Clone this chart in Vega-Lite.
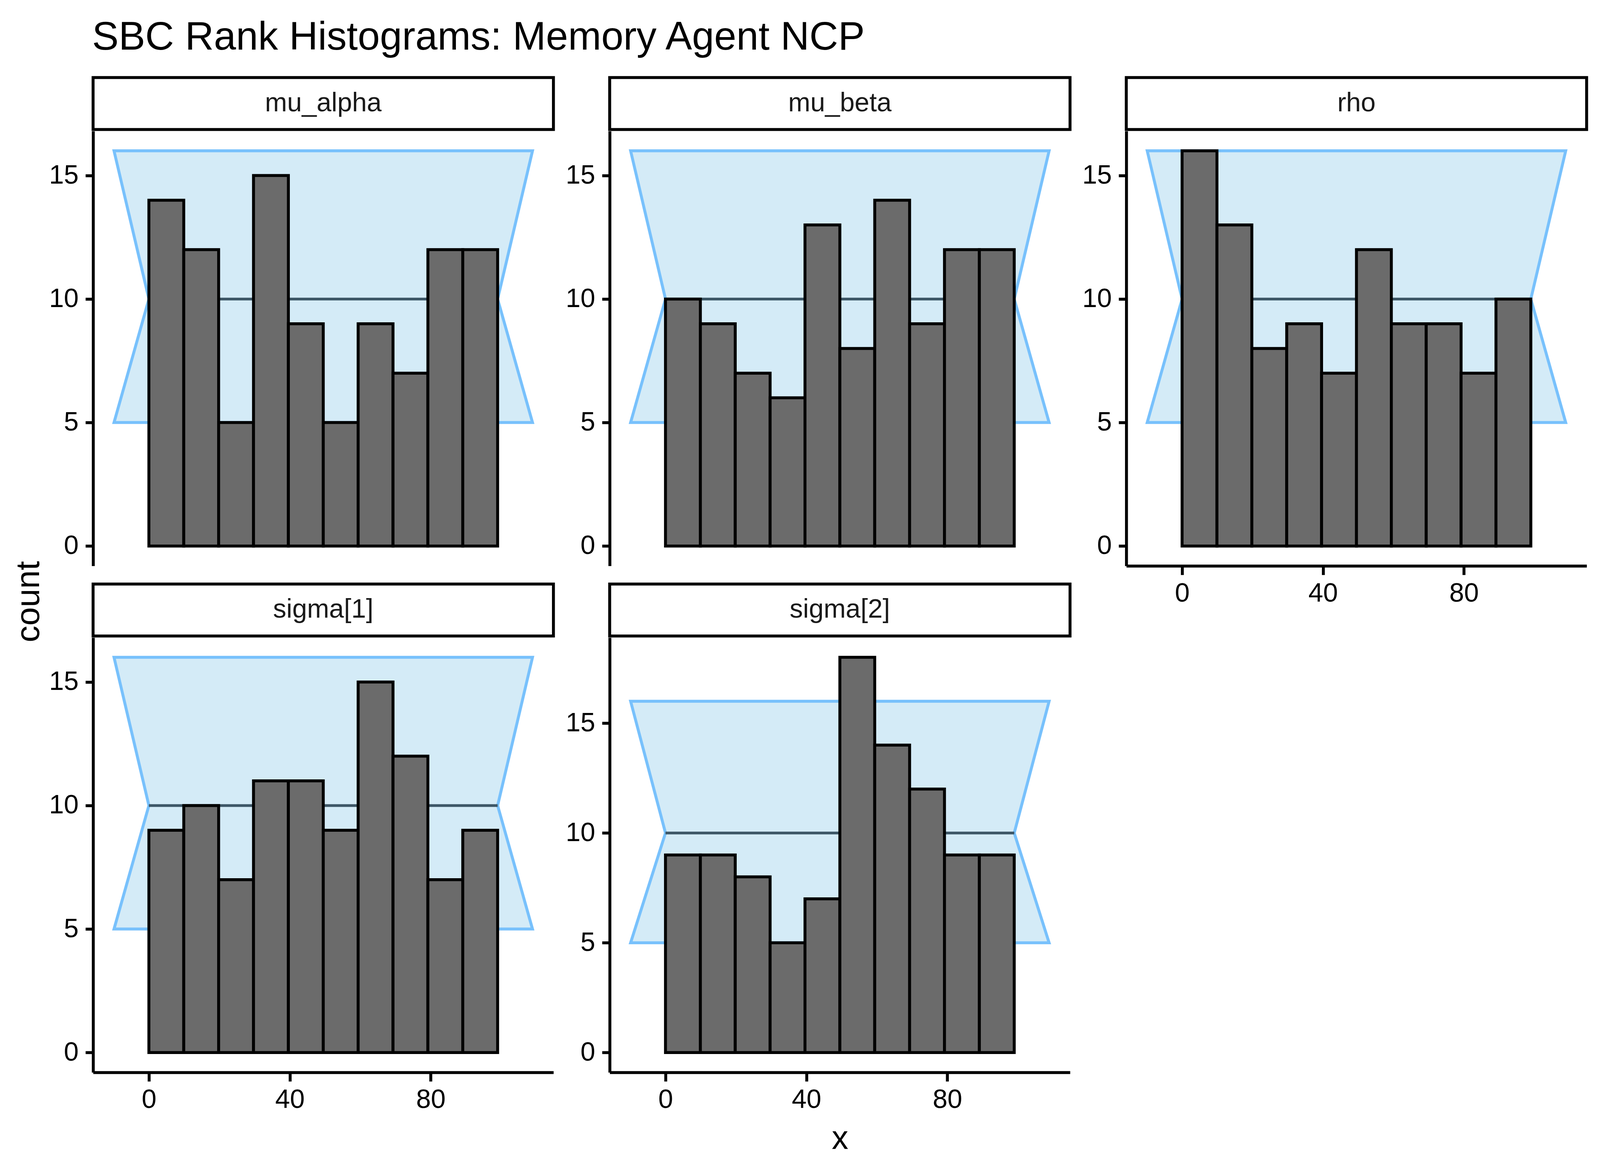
{
  "$schema": "https://vega.github.io/schema/vega-lite/v6.json",
  "background": "white",
  "padding": {"left": 31.7, "top": 44.4, "right": 20, "bottom": 20},
  "title": {"text": "SBC Rank Histograms: Memory Agent NCP", "anchor": "start", "frame": "bounds", "dx": 204, "offset": 46.6, "fontSize": 102, "fontWeight": "normal", "font": "Liberation Sans", "color": "black"},
  "datasets": {
    "band": [
      {"cy": 5, "lo": -9.9, "hi": 108.9},
      {"cy": 10, "lo": 0, "hi": 99},
      {"cy": 16, "lo": -9.9, "hi": 108.9}
    ],
    "mean": [{"cy": 10, "lo": 0, "hi": 99}],
    "bars": [
      {"panel": "mu_alpha", "lo": 0, "hi": 9.9, "count": 14},
      {"panel": "mu_alpha", "lo": 9.9, "hi": 19.8, "count": 12},
      {"panel": "mu_alpha", "lo": 19.8, "hi": 29.7, "count": 5},
      {"panel": "mu_alpha", "lo": 29.7, "hi": 39.6, "count": 15},
      {"panel": "mu_alpha", "lo": 39.6, "hi": 49.5, "count": 9},
      {"panel": "mu_alpha", "lo": 49.5, "hi": 59.4, "count": 5},
      {"panel": "mu_alpha", "lo": 59.4, "hi": 69.3, "count": 9},
      {"panel": "mu_alpha", "lo": 69.3, "hi": 79.2, "count": 7},
      {"panel": "mu_alpha", "lo": 79.2, "hi": 89.1, "count": 12},
      {"panel": "mu_alpha", "lo": 89.1, "hi": 99, "count": 12},
      {"panel": "mu_beta", "lo": 0, "hi": 9.9, "count": 10},
      {"panel": "mu_beta", "lo": 9.9, "hi": 19.8, "count": 9},
      {"panel": "mu_beta", "lo": 19.8, "hi": 29.7, "count": 7},
      {"panel": "mu_beta", "lo": 29.7, "hi": 39.6, "count": 6},
      {"panel": "mu_beta", "lo": 39.6, "hi": 49.5, "count": 13},
      {"panel": "mu_beta", "lo": 49.5, "hi": 59.4, "count": 8},
      {"panel": "mu_beta", "lo": 59.4, "hi": 69.3, "count": 14},
      {"panel": "mu_beta", "lo": 69.3, "hi": 79.2, "count": 9},
      {"panel": "mu_beta", "lo": 79.2, "hi": 89.1, "count": 12},
      {"panel": "mu_beta", "lo": 89.1, "hi": 99, "count": 12},
      {"panel": "rho", "lo": 0, "hi": 9.9, "count": 16},
      {"panel": "rho", "lo": 9.9, "hi": 19.8, "count": 13},
      {"panel": "rho", "lo": 19.8, "hi": 29.7, "count": 8},
      {"panel": "rho", "lo": 29.7, "hi": 39.6, "count": 9},
      {"panel": "rho", "lo": 39.6, "hi": 49.5, "count": 7},
      {"panel": "rho", "lo": 49.5, "hi": 59.4, "count": 12},
      {"panel": "rho", "lo": 59.4, "hi": 69.3, "count": 9},
      {"panel": "rho", "lo": 69.3, "hi": 79.2, "count": 9},
      {"panel": "rho", "lo": 79.2, "hi": 89.1, "count": 7},
      {"panel": "rho", "lo": 89.1, "hi": 99, "count": 10},
      {"panel": "sigma[1]", "lo": 0, "hi": 9.9, "count": 9},
      {"panel": "sigma[1]", "lo": 9.9, "hi": 19.8, "count": 10},
      {"panel": "sigma[1]", "lo": 19.8, "hi": 29.7, "count": 7},
      {"panel": "sigma[1]", "lo": 29.7, "hi": 39.6, "count": 11},
      {"panel": "sigma[1]", "lo": 39.6, "hi": 49.5, "count": 11},
      {"panel": "sigma[1]", "lo": 49.5, "hi": 59.4, "count": 9},
      {"panel": "sigma[1]", "lo": 59.4, "hi": 69.3, "count": 15},
      {"panel": "sigma[1]", "lo": 69.3, "hi": 79.2, "count": 12},
      {"panel": "sigma[1]", "lo": 79.2, "hi": 89.1, "count": 7},
      {"panel": "sigma[1]", "lo": 89.1, "hi": 99, "count": 9},
      {"panel": "sigma[2]", "lo": 0, "hi": 9.9, "count": 9},
      {"panel": "sigma[2]", "lo": 9.9, "hi": 19.8, "count": 9},
      {"panel": "sigma[2]", "lo": 19.8, "hi": 29.7, "count": 8},
      {"panel": "sigma[2]", "lo": 29.7, "hi": 39.6, "count": 5},
      {"panel": "sigma[2]", "lo": 39.6, "hi": 49.5, "count": 7},
      {"panel": "sigma[2]", "lo": 49.5, "hi": 59.4, "count": 18},
      {"panel": "sigma[2]", "lo": 59.4, "hi": 69.3, "count": 14},
      {"panel": "sigma[2]", "lo": 69.3, "hi": 79.2, "count": 12},
      {"panel": "sigma[2]", "lo": 79.2, "hi": 89.1, "count": 9},
      {"panel": "sigma[2]", "lo": 89.1, "hi": 99, "count": 9}
    ]
  },
  "spacing": 6.6,
  "hconcat": [
    {
      "width": 85, "height": 2683.5,
      "data": {"values": [{"label": "count"}]},
      "mark": {"type": "text", "fontSize": 85, "angle": 270, "color": "black", "baseline": "middle", "align": "center", "font": "Liberation Sans"},
      "encoding": {"text": {"field": "label", "type": "nominal"}}
    },
    {
      "spacing": 25.5,
      "hconcat": [
        {
          "spacing": 42.5,
          "vconcat": [
            {
              "spacing": -7.5,
              "vconcat": [
                {"width": 1178.5, "height": 133, "view": {"stroke": "black", "strokeWidth": 7.5, "fill": "white"},
                 "data": {"values": [{"label": "mu_alpha"}]},
                 "mark": {"type": "text", "fontSize": 68, "color": "#1a1a1a", "baseline": "middle", "align": "center", "font": "Liberation Sans"},
                 "encoding": {"text": {"field": "label", "type": "nominal"}}},
                {"width": 1178.5, "height": 1113,
                 "layer": [
                   {"data": {"name": "band"},
                    "mark": {"type": "area", "orient": "horizontal", "fill": "#d4ebf7", "stroke": "#78c1fc", "strokeWidth": 7.5, "strokeJoin": "miter"},
                    "encoding": {
                      "y": {"field": "cy", "type": "quantitative", "title": null, "scale": {"domain": [-0.8, 16.8], "nice": false, "zero": false}, "axis": {"values": [0, 5, 10, 15], "title": null}},
                      "x": {"field": "lo", "type": "quantitative", "title": null, "scale": {"domain": [-15.84, 114.84], "nice": false, "zero": false}, "axis": null},
                      "x2": {"field": "hi"}}},
                   {"data": {"name": "mean"},
                    "mark": {"type": "rule", "color": "#3d5767", "strokeWidth": 7},
                    "encoding": {
                      "y": {"field": "cy", "type": "quantitative", "title": null, "axis": {"values": [0, 5, 10, 15], "title": null}},
                      "x": {"field": "lo", "type": "quantitative", "title": null, "axis": null},
                      "x2": {"field": "hi"}}},
                   {"data": {"name": "bars"}, "transform": [{"filter": "datum.panel == 'mu_alpha'"}],
                    "mark": {"type": "rect", "fill": "#6b6b6b", "stroke": "black", "strokeWidth": 7.5},
                    "encoding": {
                      "x": {"field": "lo", "type": "quantitative", "title": null, "axis": null},
                      "x2": {"field": "hi"},
                      "y": {"field": "count", "type": "quantitative", "title": null, "axis": {"values": [0, 5, 10, 15], "title": null}},
                      "y2": {"datum": 0}}}
                 ]}
              ]
            },
            {
              "spacing": -7.5,
              "vconcat": [
                {"width": 1178.5, "height": 133, "view": {"stroke": "black", "strokeWidth": 7.5, "fill": "white"},
                 "data": {"values": [{"label": "sigma[1]"}]},
                 "mark": {"type": "text", "fontSize": 68, "color": "#1a1a1a", "baseline": "middle", "align": "center", "font": "Liberation Sans"},
                 "encoding": {"text": {"field": "label", "type": "nominal"}}},
                {"width": 1178.5, "height": 1113,
                 "layer": [
                   {"data": {"name": "band"},
                    "mark": {"type": "area", "orient": "horizontal", "fill": "#d4ebf7", "stroke": "#78c1fc", "strokeWidth": 7.5, "strokeJoin": "miter"},
                    "encoding": {
                      "y": {"field": "cy", "type": "quantitative", "title": null, "scale": {"domain": [-0.8, 16.8], "nice": false, "zero": false}, "axis": {"values": [0, 5, 10, 15], "title": null}},
                      "x": {"field": "lo", "type": "quantitative", "title": null, "scale": {"domain": [-15.84, 114.84], "nice": false, "zero": false}, "axis": {"values": [0, 40, 80], "title": null}},
                      "x2": {"field": "hi"}}},
                   {"data": {"name": "mean"},
                    "mark": {"type": "rule", "color": "#3d5767", "strokeWidth": 7},
                    "encoding": {
                      "y": {"field": "cy", "type": "quantitative", "title": null, "axis": {"values": [0, 5, 10, 15], "title": null}},
                      "x": {"field": "lo", "type": "quantitative", "title": null, "axis": {"values": [0, 40, 80], "title": null}},
                      "x2": {"field": "hi"}}},
                   {"data": {"name": "bars"}, "transform": [{"filter": "datum.panel == 'sigma[1]'"}],
                    "mark": {"type": "rect", "fill": "#6b6b6b", "stroke": "black", "strokeWidth": 7.5},
                    "encoding": {
                      "x": {"field": "lo", "type": "quantitative", "title": null, "axis": {"values": [0, 40, 80], "title": null}},
                      "x2": {"field": "hi"},
                      "y": {"field": "count", "type": "quantitative", "title": null, "axis": {"values": [0, 5, 10, 15], "title": null}},
                      "y2": {"datum": 0}}}
                 ]}
              ]
            }
          ]
        },
        {
          "spacing": 42.5,
          "vconcat": [
            {
              "spacing": -7.5,
              "vconcat": [
                {"width": 1178.5, "height": 133, "view": {"stroke": "black", "strokeWidth": 7.5, "fill": "white"},
                 "data": {"values": [{"label": "mu_beta"}]},
                 "mark": {"type": "text", "fontSize": 68, "color": "#1a1a1a", "baseline": "middle", "align": "center", "font": "Liberation Sans"},
                 "encoding": {"text": {"field": "label", "type": "nominal"}}},
                {"width": 1178.5, "height": 1113,
                 "layer": [
                   {"data": {"name": "band"},
                    "mark": {"type": "area", "orient": "horizontal", "fill": "#d4ebf7", "stroke": "#78c1fc", "strokeWidth": 7.5, "strokeJoin": "miter"},
                    "encoding": {
                      "y": {"field": "cy", "type": "quantitative", "title": null, "scale": {"domain": [-0.8, 16.8], "nice": false, "zero": false}, "axis": {"values": [0, 5, 10, 15], "title": null}},
                      "x": {"field": "lo", "type": "quantitative", "title": null, "scale": {"domain": [-15.84, 114.84], "nice": false, "zero": false}, "axis": null},
                      "x2": {"field": "hi"}}},
                   {"data": {"name": "mean"},
                    "mark": {"type": "rule", "color": "#3d5767", "strokeWidth": 7},
                    "encoding": {
                      "y": {"field": "cy", "type": "quantitative", "title": null, "axis": {"values": [0, 5, 10, 15], "title": null}},
                      "x": {"field": "lo", "type": "quantitative", "title": null, "axis": null},
                      "x2": {"field": "hi"}}},
                   {"data": {"name": "bars"}, "transform": [{"filter": "datum.panel == 'mu_beta'"}],
                    "mark": {"type": "rect", "fill": "#6b6b6b", "stroke": "black", "strokeWidth": 7.5},
                    "encoding": {
                      "x": {"field": "lo", "type": "quantitative", "title": null, "axis": null},
                      "x2": {"field": "hi"},
                      "y": {"field": "count", "type": "quantitative", "title": null, "axis": {"values": [0, 5, 10, 15], "title": null}},
                      "y2": {"datum": 0}}}
                 ]}
              ]
            },
            {
              "spacing": -7.5,
              "vconcat": [
                {"width": 1178.5, "height": 133, "view": {"stroke": "black", "strokeWidth": 7.5, "fill": "white"},
                 "data": {"values": [{"label": "sigma[2]"}]},
                 "mark": {"type": "text", "fontSize": 68, "color": "#1a1a1a", "baseline": "middle", "align": "center", "font": "Liberation Sans"},
                 "encoding": {"text": {"field": "label", "type": "nominal"}}},
                {"width": 1178.5, "height": 1113,
                 "layer": [
                   {"data": {"name": "band"},
                    "mark": {"type": "area", "orient": "horizontal", "fill": "#d4ebf7", "stroke": "#78c1fc", "strokeWidth": 7.5, "strokeJoin": "miter"},
                    "encoding": {
                      "y": {"field": "cy", "type": "quantitative", "title": null, "scale": {"domain": [-0.9, 18.9], "nice": false, "zero": false}, "axis": {"values": [0, 5, 10, 15], "title": null}},
                      "x": {"field": "lo", "type": "quantitative", "title": null, "scale": {"domain": [-15.84, 114.84], "nice": false, "zero": false}, "axis": {"values": [0, 40, 80], "title": "x", "titleY": 196, "titleBaseline": "alphabetic"}},
                      "x2": {"field": "hi"}}},
                   {"data": {"name": "mean"},
                    "mark": {"type": "rule", "color": "#3d5767", "strokeWidth": 7},
                    "encoding": {
                      "y": {"field": "cy", "type": "quantitative", "title": null, "axis": {"values": [0, 5, 10, 15], "title": null}},
                      "x": {"field": "lo", "type": "quantitative", "title": "x", "axis": {"values": [0, 40, 80], "title": "x", "titleY": 196, "titleBaseline": "alphabetic"}},
                      "x2": {"field": "hi"}}},
                   {"data": {"name": "bars"}, "transform": [{"filter": "datum.panel == 'sigma[2]'"}],
                    "mark": {"type": "rect", "fill": "#6b6b6b", "stroke": "black", "strokeWidth": 7.5},
                    "encoding": {
                      "x": {"field": "lo", "type": "quantitative", "title": "x", "axis": {"values": [0, 40, 80], "title": "x", "titleY": 196, "titleBaseline": "alphabetic"}},
                      "x2": {"field": "hi"},
                      "y": {"field": "count", "type": "quantitative", "title": null, "axis": {"values": [0, 5, 10, 15], "title": null}},
                      "y2": {"datum": 0}}}
                 ]}
              ]
            }
          ]
        },
        {
          "spacing": -7.5,
          "vconcat": [
            {"width": 1178.5, "height": 133, "view": {"stroke": "black", "strokeWidth": 7.5, "fill": "white"},
             "data": {"values": [{"label": "rho"}]},
             "mark": {"type": "text", "fontSize": 68, "color": "#1a1a1a", "baseline": "middle", "align": "center", "font": "Liberation Sans"},
             "encoding": {"text": {"field": "label", "type": "nominal"}}},
            {"width": 1178.5, "height": 1113,
             "layer": [
               {"data": {"name": "band"},
                "mark": {"type": "area", "orient": "horizontal", "fill": "#d4ebf7", "stroke": "#78c1fc", "strokeWidth": 7.5, "strokeJoin": "miter"},
                "encoding": {
                  "y": {"field": "cy", "type": "quantitative", "title": null, "scale": {"domain": [-0.8, 16.8], "nice": false, "zero": false}, "axis": {"values": [0, 5, 10, 15], "title": null}},
                  "x": {"field": "lo", "type": "quantitative", "title": null, "scale": {"domain": [-15.84, 114.84], "nice": false, "zero": false}, "axis": {"values": [0, 40, 80], "title": null}},
                  "x2": {"field": "hi"}}},
               {"data": {"name": "mean"},
                "mark": {"type": "rule", "color": "#3d5767", "strokeWidth": 7},
                "encoding": {
                  "y": {"field": "cy", "type": "quantitative", "title": null, "axis": {"values": [0, 5, 10, 15], "title": null}},
                  "x": {"field": "lo", "type": "quantitative", "title": null, "axis": {"values": [0, 40, 80], "title": null}},
                  "x2": {"field": "hi"}}},
               {"data": {"name": "bars"}, "transform": [{"filter": "datum.panel == 'rho'"}],
                "mark": {"type": "rect", "fill": "#6b6b6b", "stroke": "black", "strokeWidth": 7.5},
                "encoding": {
                  "x": {"field": "lo", "type": "quantitative", "title": null, "axis": {"values": [0, 40, 80], "title": null}},
                  "x2": {"field": "hi"},
                  "y": {"field": "count", "type": "quantitative", "title": null, "axis": {"values": [0, 5, 10, 15], "title": null}},
                  "y2": {"datum": 0}}}
             ]}
          ]
        }
      ]
    }
  ],
  "config": {
    "view": {"stroke": null},
    "font": "Liberation Sans",
    "axis": {"domainColor": "black", "domainWidth": 7.5, "domainCap": "butt", "tickColor": "black", "tickWidth": 7.5, "labelFont": "Liberation Sans", "labelFontSize": 68, "labelColor": "black", "grid": false, "titleFont": "Liberation Sans", "titleFontSize": 85, "titleColor": "black", "titleFontWeight": "normal"},
    "axisY": {"labelPadding": 17.9, "tickSize": 19.6},
    "axisX": {"labelPadding": 14, "tickSize": 23}
  }
}
